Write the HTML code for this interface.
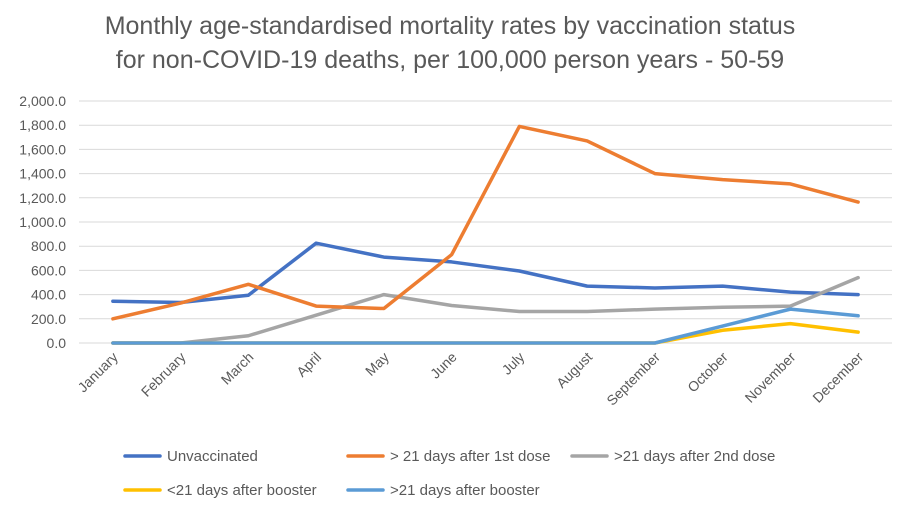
<!DOCTYPE html>
<html><head><meta charset="utf-8"><style>
body{margin:0;background:#fff;}
svg text{font-family:"Liberation Sans",sans-serif;fill:#595959;}
</style></head><body>
<svg id="c" width="910" height="510" xmlns="http://www.w3.org/2000/svg">
<rect width="910" height="510" fill="#fff"/>
<text x="450" y="34" font-size="25" text-anchor="middle">Monthly age-standardised mortality rates by vaccination status</text>
<text x="450" y="68" font-size="25" text-anchor="middle">for non-COVID-19 deaths, per 100,000 person years - 50-59</text>
<g id="grid"></g><g id="yl"></g><g id="xl"></g><g id="series"></g><g id="legend"></g>
</svg>
<script>
const categories=["January","February","March","April","May","June","July","August","September","October","November","December"];
const unvaccinated=[345,335,395,825,710,670,595,470,455,470,420,400];
const firstDose=[200,330,485,305,285,730,1790,1670,1400,1350,1315,1165];
const secondDose=[0,0,60,230,400,310,260,260,280,295,305,540];
const boosterUnder21=[0,0,0,0,0,0,0,0,0,105,160,90];
const boosterOver21=[0,0,0,0,0,0,0,0,0,140,280,225];
const yTicks=[0,200,400,600,800,1000,1200,1400,1600,1800,2000];
const seriesNames=["Unvaccinated","> 21 days after 1st dose",">21 days after 2nd dose","<21 days after booster",">21 days after booster"];
const NS="http://www.w3.org/2000/svg";
const x0=79,x1=892,y0=343,y1=101;
const xs=i=>x0+(x1-x0)/categories.length*(i+0.5);
const ys=v=>y0-(v/2000)*(y0-y1);
function mk(t,a,p){const e=document.createElementNS(NS,t);for(const k in a)e.setAttribute(k,a[k]);p.appendChild(e);return e;}
const g=document.getElementById('grid'),yl=document.getElementById('yl'),xl=document.getElementById('xl'),sg=document.getElementById('series'),lg=document.getElementById('legend');
yTicks.forEach(v=>{
 const l=mk('line',{x1:x0,x2:x1,y1:ys(v),y2:ys(v),stroke:'#d9d9d9','stroke-width':1},g);
 
 
 const t=mk('text',{x:66,y:ys(v)+5,'font-size':14,'text-anchor':'end'},yl);
 t.textContent=v.toLocaleString('en-US',{minimumFractionDigits:1});
 
 
});
categories.forEach((c,i)=>{
 const x=xs(i)+6,y=358;
 const t=mk('text',{x:x,y:y,'font-size':14,'text-anchor':'end',transform:`rotate(-45 ${x} ${y})`},xl);
 t.textContent=c;
 
 
});
const data=[unvaccinated,firstDose,secondDose,boosterUnder21,boosterOver21];
const colors=["#4472c4","#ed7d31","#a5a5a5","#ffc000","#5b9bd5"];
const order=[0,2,3,4,1];
order.forEach(k=>{
 const p=mk('polyline',{points:data[k].map((v,i)=>xs(i)+','+ys(v)).join(' '),fill:'none',stroke:colors[k],'stroke-width':3.5,'stroke-linejoin':'round','stroke-linecap':'round'},sg);
 
 
});
const lpos=[[125,456],[348,456],[572,456],[125,490],[348,490]];
seriesNames.forEach((n,k)=>{
 const [x,y]=lpos[k];
 const l=mk('line',{x1:x,x2:x+35,y1:y,y2:y,stroke:colors[k],'stroke-width':3.5,'stroke-linecap':'round'},lg);
 
 
 const t=mk('text',{x:x+42,y:y+5,'font-size':15},lg);
 t.textContent=n;
 
 
});
</script>
</body></html>
